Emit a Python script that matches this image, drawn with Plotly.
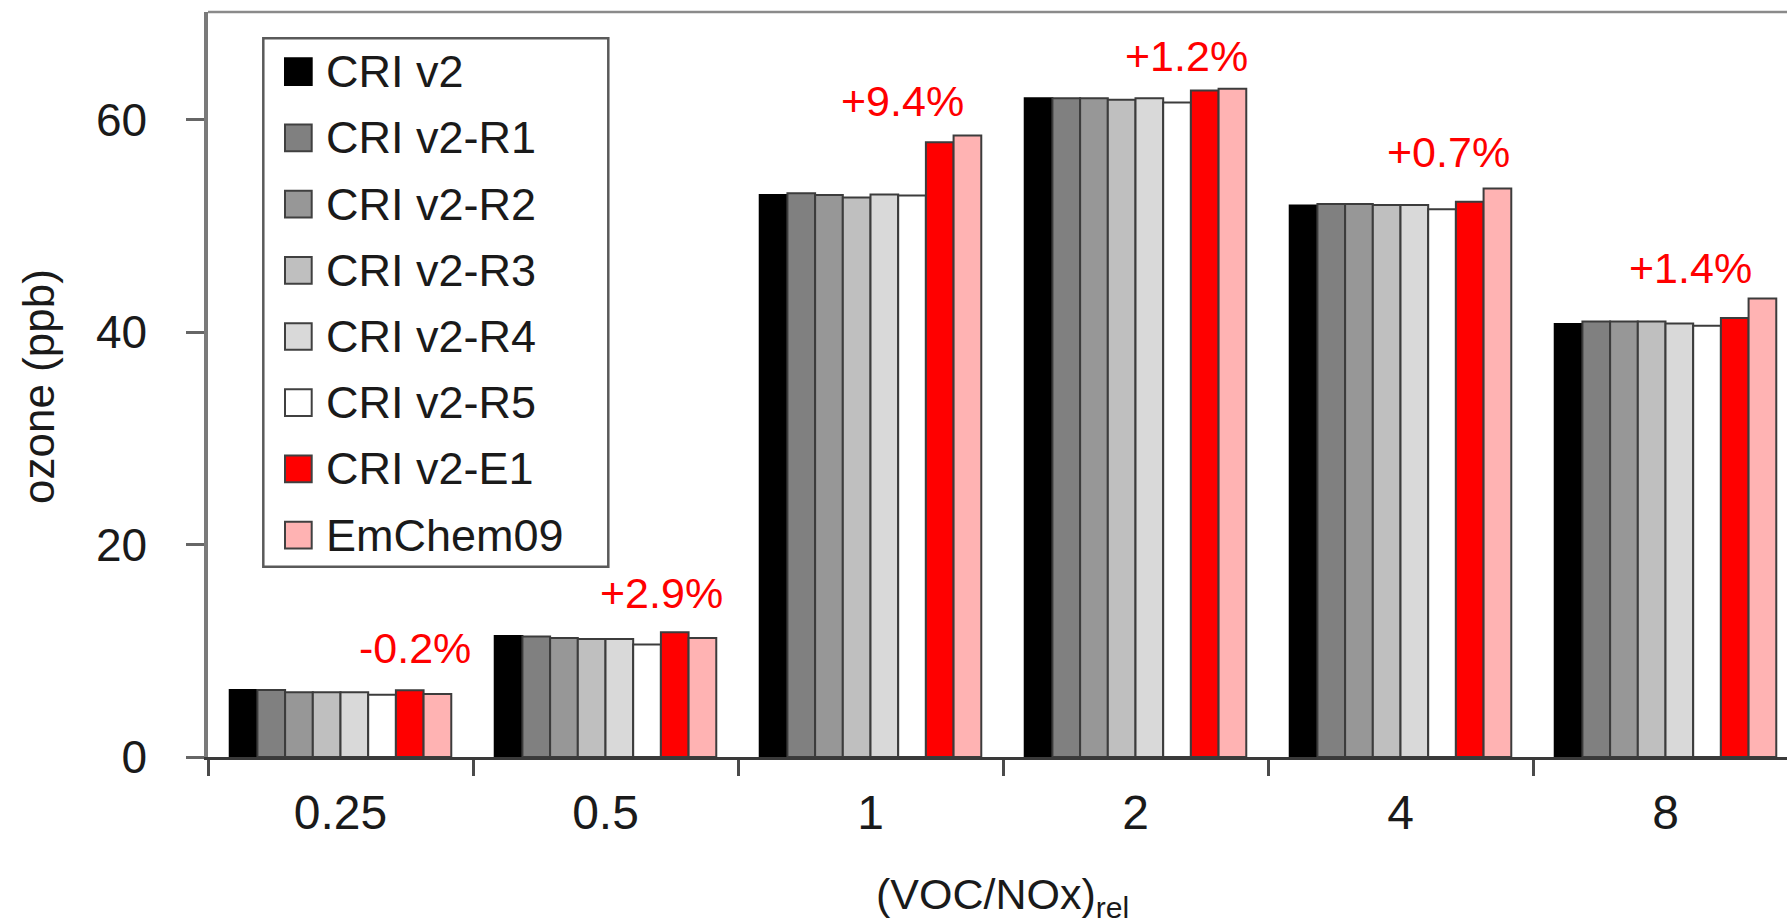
import plotly.graph_objects as go

# VOC/NOx ratio scenarios (relative to base case)
ratios = ["0.25", "0.5", "1", "2", "4", "8"]

# Modelled ozone (ppb) per mechanism
cri_v2    = [6.30, 11.40, 52.90, 62.00, 51.90, 40.75]
cri_v2_r1 = [6.30, 11.35, 53.05, 62.00, 52.05, 41.00]
cri_v2_r2 = [6.10, 11.20, 52.90, 62.00, 52.05, 41.00]
cri_v2_r3 = [6.10, 11.10, 52.65, 61.85, 51.95, 41.00]
cri_v2_r4 = [6.10, 11.10, 52.95, 62.00, 51.95, 40.80]
cri_v2_r5 = [5.85, 10.60, 52.85, 61.60, 51.55, 40.60]
cri_v2_e1 = [6.29, 11.73, 57.87, 62.74, 52.26, 41.32]
emchem09  = [5.92, 11.20, 58.50, 62.90, 53.50, 43.15]

series_names = ["CRI v2", "CRI v2-R1", "CRI v2-R2", "CRI v2-R3",
                "CRI v2-R4", "CRI v2-R5", "CRI v2-E1", "EmChem09"]
series_values = [cri_v2, cri_v2_r1, cri_v2_r2, cri_v2_r3,
                 cri_v2_r4, cri_v2_r5, cri_v2_e1, emchem09]
series_colors = ["#000000", "#808080", "#979797", "#bfbfbf",
                 "#d9d9d9", "#ffffff", "#ff0000", "#ffb3b3"]

# Change of CRI v2-E1 relative to CRI v2
change_labels = ["-0.2%", "+2.9%", "+9.4%", "+1.2%", "+0.7%", "+1.4%"]

# --- layout geometry (pixels) ---
W, H = 1787, 924
ML, MR, MT, MB = 208, 0, 12, 167
PW, PH = W - ML - MR, H - MT - MB
Y_TOP = 70.12
GROUP_PX = 265.0
X_RANGE = [-0.5, -0.5 + PW / GROUP_PX]

FONT = "Liberation Sans, Arial, sans-serif"
TEXT = "#1a1a1a"


def px_x(px):
    return (px - ML) / PW


def px_y(py):
    return (H - MB - py) / PH


fig = go.Figure()
for name, vals, col in zip(series_names, series_values, series_colors):
    fig.add_trace(go.Bar(
        name=name, x=ratios, y=vals, showlegend=False,
        marker=dict(color=col,
                    line=dict(color="#000000" if col == "#000000" else "#3c3c3c",
                              width=2)),
    ))

# percentage labels above each group
label_dx = [0.280, 0.212, 0.119, 0.194, 0.183, 0.096]
label_lift = [42, 39, 34, 33, 37, 31]
annotations = []
for i, txt in enumerate(change_labels):
    top = max(v[i] for v in series_values)
    annotations.append(dict(
        x=i + label_dx[i], y=top, xref="x", yref="y", text=txt,
        showarrow=False, xanchor="center", yanchor="middle",
        yshift=label_lift[i],
        font=dict(family=FONT, size=43, color="#ff0000"),
    ))

# axis titles
annotations.append(dict(
    x=px_x(38), y=px_y(387), xref="paper", yref="paper",
    text="ozone (ppb)", textangle=-90, showarrow=False,
    xanchor="center", yanchor="middle",
    font=dict(family=FONT, size=44, color=TEXT),
))
annotations.append(dict(
    x=px_x(1002.7), y=px_y(897), xref="paper", yref="paper",
    text="(VOC/NOx)<sub>rel</sub>", showarrow=False,
    xanchor="center", yanchor="middle",
    font=dict(family=FONT, size=43, color=TEXT),
))

# legend box drawn as shapes + text
shapes = [
    dict(type="line", xref="paper", yref="paper", x0=0, x1=1, y0=1, y1=1,
         line=dict(color="#8a8a8a", width=2.5)),
    dict(type="rect", xref="paper", yref="paper",
         x0=px_x(263.3), x1=px_x(608.3), y0=px_y(566.7), y1=px_y(38.3),
         line=dict(color="#5a5a5a", width=2.5), fillcolor="rgba(255,255,255,0)"),
]
ROW0, ROW_STEP, SW = 71.7, 66.2, 26.7
for k, (name, col) in enumerate(zip(series_names, series_colors)):
    cy = ROW0 + k * ROW_STEP
    shapes.append(dict(
        type="rect", xref="paper", yref="paper",
        x0=px_x(285), x1=px_x(285 + SW), y0=px_y(cy + SW / 2), y1=px_y(cy - SW / 2),
        fillcolor=col,
        line=dict(color="#000000" if col == "#000000" else "#404040", width=2),
    ))
    annotations.append(dict(
        x=px_x(324), y=px_y(cy), xref="paper", yref="paper", text=name,
        showarrow=False, xanchor="left", yanchor="middle",
        font=dict(family=FONT, size=45, color=TEXT),
    ))

fig.update_layout(
    width=W, height=H,
    margin=dict(l=ML, r=MR, t=MT, b=MB, pad=0),
    paper_bgcolor="white", plot_bgcolor="white",
    barmode="group", bargap=0.164, bargroupgap=0,
    font=dict(family=FONT, color=TEXT),
    annotations=annotations, shapes=shapes,
    xaxis=dict(
        type="category", range=X_RANGE, tickson="boundaries",
        ticks="outside", ticklen=16, tickwidth=2.5, tickcolor="#4a4a4a",
        showline=True, linecolor="#3a3a3a", linewidth=2.5,
        showgrid=False, zeroline=False,
        tickfont=dict(family=FONT, size=48, color=TEXT),
        ticklabelstandoff=12,
    ),
    yaxis=dict(
        range=[0, Y_TOP], tickvals=[0, 20, 40, 60],
        ticks="outside", ticklen=18, tickwidth=2.5, tickcolor="#666666",
        showline=True, linecolor="#7a7a7a", linewidth=3.5,
        showgrid=False, zeroline=False,
        tickfont=dict(family=FONT, size=46, color=TEXT),
        ticklabelstandoff=30,
    ),
)

fig.write_html("out.html")
